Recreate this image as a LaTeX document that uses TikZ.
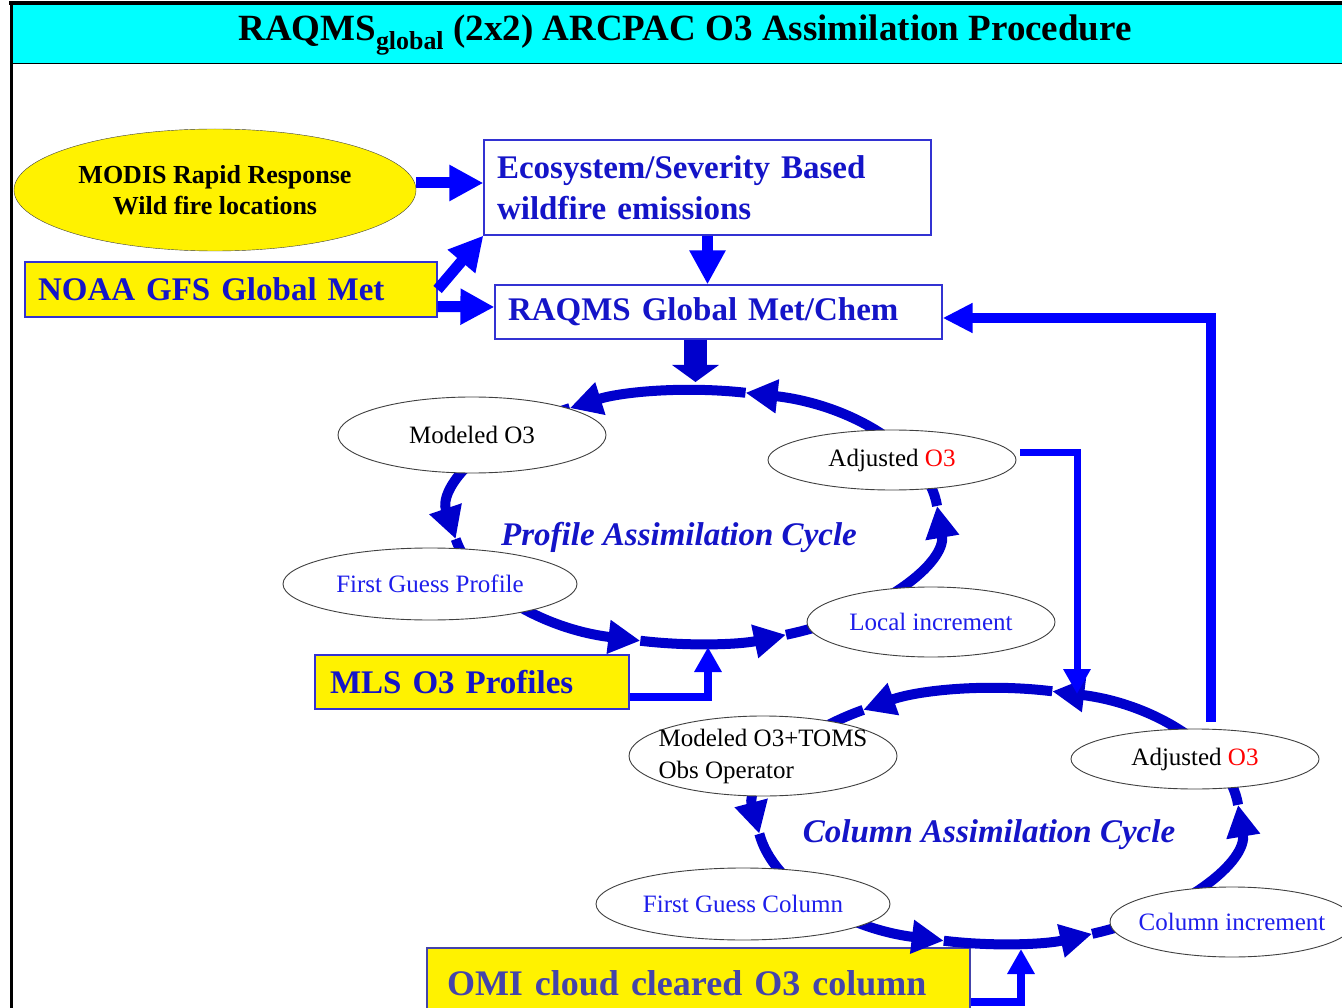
\documentclass[tikz,border=0pt]{standalone}
\usepackage{fontspec}
\setmainfont{Liberation Serif}
\usetikzlibrary{arrows.meta,shapes.geometric}

\definecolor{titlecyan}{RGB}{0,255,255}
\definecolor{cycblue}{RGB}{0,0,204}
\definecolor{feedblue}{RGB}{0,0,255}
\definecolor{txtblue}{RGB}{20,20,200}
\definecolor{ovalblue}{RGB}{30,30,235}
\definecolor{omitxt}{RGB}{68,68,170}
\definecolor{boxedge}{RGB}{50,50,210}

\begin{document}
\begin{tikzpicture}[
    x=1pt, y=1pt,
    box/.style={rectangle, draw=boxedge, line width=1.2pt, align=left, inner ysep=0pt, text=txtblue, font=\fontsize{33}{41}\selectfont\bfseries},
    yellowbox/.style={box, fill=yellow},
    oval/.style={ellipse, draw=black!75, line width=0.9pt, fill=white, inner xsep=-16pt, inner ysep=-2pt, font=\fontsize{25}{32}\selectfont},
    fat_arrow/.style={feedblue, line width=11pt, -{Triangle[length=34pt, width=34pt]}},
    cycle_arrow/.style={cycblue, line width=10pt, -{Triangle[length=32pt, width=32pt]}},
    feed_arrow/.style={feedblue, line width=8pt, -{Triangle[length=25pt, width=26pt]}},
    cycle_label/.style={text=txtblue, font=\fontsize{33}{40}\selectfont\bfseries\itshape}
]
\useasboundingbox (0,0) rectangle (1342,-1008);
\fill[white] (0,0) rectangle (1342,-1008);

% Title bar
\fill[titlecyan] (11,-4) rectangle (1342,-64);
\draw[line width=1pt] (11,-64) -- (1342,-64);
\draw[line width=4pt] (9,-3) -- (1342,-3);
\draw[line width=3pt] (11,-3) -- (11,-1008);
\node[font=\fontsize{37}{44}\selectfont\bfseries] (title) at (685,-35) {RAQMS\textsubscript{global} (2x2) ARCPAC O3 Assimilation Procedure};

% Inputs and model boxes
\node[ellipse, draw=black!75, fill=yellow, minimum width=402pt, minimum height=122pt, inner sep=0pt, align=center, font=\fontsize{26}{31}\selectfont\bfseries] (modis) at (215,-190) {MODIS Rapid Response\\Wild fire locations};
\node[box, text width=421pt, inner xsep=13pt, minimum height=95pt] (eco) at (707.5,-187.5) {Ecosystem/Severity Based\\wildfire emissions};
\node[yellowbox, text width=386pt, inner xsep=13pt, minimum height=55pt] (noaa) at (231,-289.5) {NOAA GFS Global Met};
\node[box, text width=421pt, inner xsep=13pt, minimum height=54pt] (raqms) at (718.5,-312) {RAQMS Global Met/Chem};
\node[yellowbox, text width=284pt, inner xsep=15pt, minimum height=54pt] (mls) at (472,-682) {MLS O3 Profiles};
\node[yellowbox, text width=503pt, inner xsep=20pt, minimum height=70pt, draw=omitxt, text=omitxt, font=\fontsize{36}{42}\selectfont\bfseries] (omi) at (698.5,-983) {OMI cloud cleared O3 column};

% Model chain
\draw[fat_arrow] ([yshift=7]modis.east) -- ([yshift=4.5]eco.west);
\draw[fat_arrow] (noaa.east) -- (eco.south west);
\draw[fat_arrow] ([yshift=-17]noaa.east) -- ([yshift=5]raqms.west);
\draw[fat_arrow] (eco.south) -- (eco.south |- raqms.north);

% Cycle centres and feed points
\coordinate (pc) at (695,-517);
\coordinate (cc) at (998,-816);
\coordinate (ptop) at (695.5,-382);
\coordinate (pbot) at (708,-647);
\coordinate (ctop) at (1077,-694);
\coordinate (cbot) at (1021,-949);

\draw[cycblue, line width=23pt, -{Triangle[length=17pt, width=46pt]}] ([xshift=-23]raqms.south) -- (ptop);

% Profile assimilation cycle
\draw[cycle_arrow] (pc) ++(292:243 and 127) arc[start angle=292, end angle=365, x radius=243, y radius=127];
\draw[cycle_arrow] (pc) ++(5:243 and 127) arc[start angle=5, end angle=78, x radius=243, y radius=127];
\draw[cycle_arrow] (pc) ++(78:243 and 127) arc[start angle=78, end angle=121, x radius=243, y radius=127];
\draw[cycle_arrow] (pc) ++(121:243 and 127) arc[start angle=121, end angle=190, x radius=243, y radius=127];
\draw[cycle_arrow] (pc) ++(190:243 and 127) arc[start angle=190, end angle=257, x radius=243, y radius=127];
\draw[cycle_arrow] (pc) ++(257:243 and 127) arc[start angle=257, end angle=292, x radius=243, y radius=127];

% Column assimilation cycle
\draw[cycle_arrow] (cc) ++(293:241 and 128) arc[start angle=293, end angle=365, x radius=241, y radius=128];
\draw[cycle_arrow] (cc) ++(5:241 and 128) arc[start angle=5, end angle=77, x radius=241, y radius=128];
\draw[cycle_arrow] (cc) ++(77:241 and 128) arc[start angle=77, end angle=124, x radius=241, y radius=128];
\draw[cycle_arrow] (cc) ++(124:241 and 128) arc[start angle=124, end angle=188, x radius=241, y radius=128];
\draw[cycle_arrow] (cc) ++(188:241 and 128) arc[start angle=188, end angle=257, x radius=241, y radius=128];
\draw[cycle_arrow] (cc) ++(257:241 and 128) arc[start angle=257, end angle=293, x radius=241, y radius=128];

% Cycle states
\node[oval, minimum width=268pt, minimum height=76pt] (modp) at (472,-435) {Modeled O3};
\node[oval, minimum width=248pt, minimum height=60pt] (adjp) at (892,-460) {Adjusted \textcolor{red}{O3}};
\node[oval, text=ovalblue, minimum width=294pt, minimum height=72pt] (fgp) at (430,-584) {First Guess Profile};
\node[oval, text=ovalblue, minimum width=248pt, minimum height=70pt] (locp) at (931,-622) {Local increment};
\node[oval, align=left, minimum width=268pt, minimum height=80pt] (toms) at (763,-756) {Modeled O3+TOMS\\Obs Operator};
\node[oval, minimum width=248pt, minimum height=60pt] (adjc) at (1195,-759) {Adjusted \textcolor{red}{O3}};
\node[oval, text=ovalblue, minimum width=294pt, minimum height=72pt] (fgc) at (743,-904) {First Guess Column};
\node[oval, text=ovalblue, minimum width=244pt, minimum height=70pt] (colc) at (1232,-922) {Column increment};

\node[cycle_label] (plabel) at (679,-537) {Profile Assimilation Cycle};
\node[cycle_label] (clabel) at (989,-835) {Column Assimilation Cycle};

% Observation feeds
\draw[feed_arrow] ([yshift=-15]mls.east) -| (pbot);
\draw[feed_arrow] ([yshift=-19]omi.east) -| (cbot);
\draw[feed_arrow, line width=7pt] ([shift={(4,8)}]adjp.east) -| (ctop);
\draw[feed_arrow, line width=10pt, -{Triangle[length=30pt, width=28pt]}] ([shift={(16,7)}]adjc.north) |- ([yshift=-6]raqms.east);

\end{tikzpicture}
\end{document}
